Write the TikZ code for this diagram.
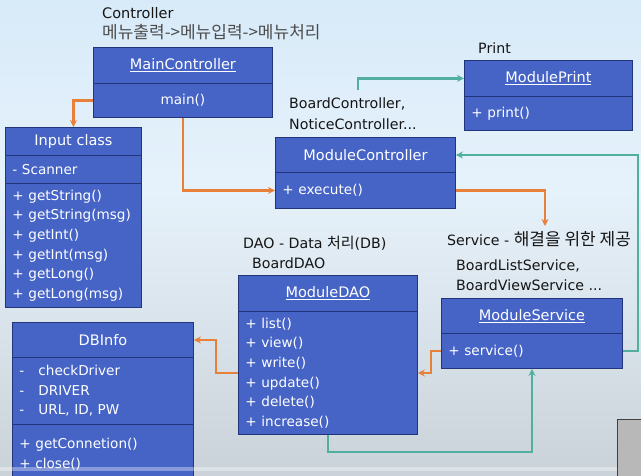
\documentclass[tikz,border=0pt]{standalone}
\usepackage{fontspec}
\setmainfont{DejaVu Sans}
\newfontfamily\kr{Noto Sans CJK KR}
\usetikzlibrary{arrows.meta}
\definecolor{boxfill}{HTML}{4664C6}
\definecolor{boxline}{HTML}{22347A}
\definecolor{orng}{HTML}{E8803A}
\definecolor{teal}{HTML}{52AE9F}
\definecolor{bgt}{HTML}{C6E1F6}
\definecolor{bgm}{HTML}{E6F2FB}
\definecolor{bgg}{HTML}{C6CDD3}
\definecolor{bgb}{HTML}{BFC3C7}
\definecolor{lbl}{HTML}{151515}
\pgfdeclareverticalshading{bgshade}{100bp}{color(0bp)=(bgb); color(20bp)=(bgg); color(55bp)=(bgm); color(100bp)=(bgt)}
\newcommand\hdf{\fontsize{14.5}{19.6}\selectfont}
\newcommand\bdf{\fontsize{13.6}{19.6}\selectfont}
\newcommand\lbf{\fontsize{14.2}{19.6}\selectfont}
\tikzset{
  cmp/.style={draw=boxline, fill=boxfill, line width=0.9pt, text=white, inner sep=0pt, anchor=north west, font=\bdf},
  ctr/.style n args={2}{cmp, minimum width=#1, minimum height=#2},
  hdr/.style n args={2}{ctr={#1}{#2}, font=\hdf},
  lft/.style n args={2}{cmp, align=left, text width=#1-14pt, inner xsep=7pt, minimum height=#2},
  lab/.style={anchor=west, inner sep=0pt, text=lbl, font=\lbf},
  oarrow/.style={draw=orng, line width=2.1pt, -{Stealth[length=7pt,width=7pt]}},
  tarrow/.style={draw=teal, line width=2.1pt, -{Stealth[length=7pt,width=7pt]}},
}
\begin{document}
\begin{tikzpicture}[x=1pt,y=-1pt]
\useasboundingbox (0,0) rectangle (641,475);
\clip (0,0) rectangle (641,475);
\shade[shading=bgshade] (0,0) rectangle (641,475);

% labels
\node[lab, font=\hdf] (l1) at (102,13) {Controller};
\node[lab, text=black!70] (l2) at (102,32) {\fontsize{17}{19}\selectfont\kr 메뉴출력->메뉴입력->메뉴처리};
\node[lab] (l3) at (289,104) {BoardController,};
\node[lab] (l4) at (289,124) {NoticeController...};
\node[lab] (l5) at (478,48) {Print};
\node[lab] (l6) at (243,243) {DAO - Data {\kr\fontsize{15}{19}\selectfont 처리}(DB)};
\node[lab] (l7) at (252,263) {BoardDAO};
\node[lab] (l8) at (447,239) {Service - {\kr\fontsize{17}{19}\selectfont 해결을 위한 제공}};
\node[lab] (l9) at (456,266) {BoardListService,};
\node[lab] (l10) at (456,285) {BoardViewService ...};

% MainController
\node[hdr={179pt}{36pt}] (mch) at (93,47) {\underline{MainController}};
\node[ctr={179pt}{34pt}] (mcb) at (93,83) {main()};
% ModulePrint
\node[hdr={168pt}{36pt}] (mph) at (464,60) {\underline{ModulePrint}};
\node[lft={168pt}{34pt}] (mpb) at (464,96) {+ print()};
% Input class
\node[hdr={136pt}{28pt}] (inh) at (5,127) {Input class};
\node[lft={136pt}{28pt}] (ina) at (5,155) {- Scanner};
\node[lft={136pt}{124pt}] (inm) at (5,183) {+ getString()\\+ getString(msg)\\+ getInt()\\+ getInt(msg)\\+ getLong()\\+ getLong(msg)};
% ModuleController
\node[hdr={180pt}{35pt}] (cth) at (275,137) {ModuleController};
\node[lft={180pt}{36pt}] (ctb) at (275,172) {+ execute()};
% ModuleDAO
\node[hdr={179pt}{36pt}] (daoh) at (238,275) {\underline{ModuleDAO}};
\node[lft={179pt}{123pt}] (daob) at (238,311) {+ list()\\+ view()\\+ write()\\+ update()\\+ delete()\\+ increase()};
% ModuleService
\node[hdr={181pt}{35pt}] (msh) at (441,298) {\underline{ModuleService}};
\node[lft={181pt}{35pt}] (msb) at (441,333) {+ service()};
% DBInfo
\node[hdr={181pt}{35pt}] (dbh) at (12,322) {DBInfo};
\node[lft={181pt}{67pt}] (dba) at (12,357) {\makebox[19pt][l]{-}checkDriver\\\makebox[19pt][l]{-}DRIVER\\\makebox[19pt][l]{-}URL, ID, PW};
\node[lft={181pt}{60pt}] (dbm) at (12,424) {+ getConnetion()\\+ close()\\[4pt]};

% connectors
\coordinate (t0) at (358,90);
\coordinate (oe) at (545,226);
\draw[oarrow] (mcb.west) -| (inh.north);
\draw[oarrow] (mcb.south) |- (ctb.west);
\draw[tarrow] (t0) |- (mph.west);
\draw[oarrow] (ctb.east) -| (oe);
\draw[tarrow] (msb.east) -- ++(15,0) |- (cth.east);
\draw[oarrow] (msb.west) -- ++(-10,0) |- (daob.east);
\draw[tarrow] (daob.south) -- ++(0,17) -| (msb.south);
\draw[oarrow] (daob.west) -- ++(-22,0) |- (dbh.east);

% screen artefacts
\fill[white, opacity=0.35] (0,467) rectangle (641,471);
\draw[fill=black!28, draw=black!75, line width=0.8pt] (617,419) rectangle (650,480);
\end{tikzpicture}
\end{document}
